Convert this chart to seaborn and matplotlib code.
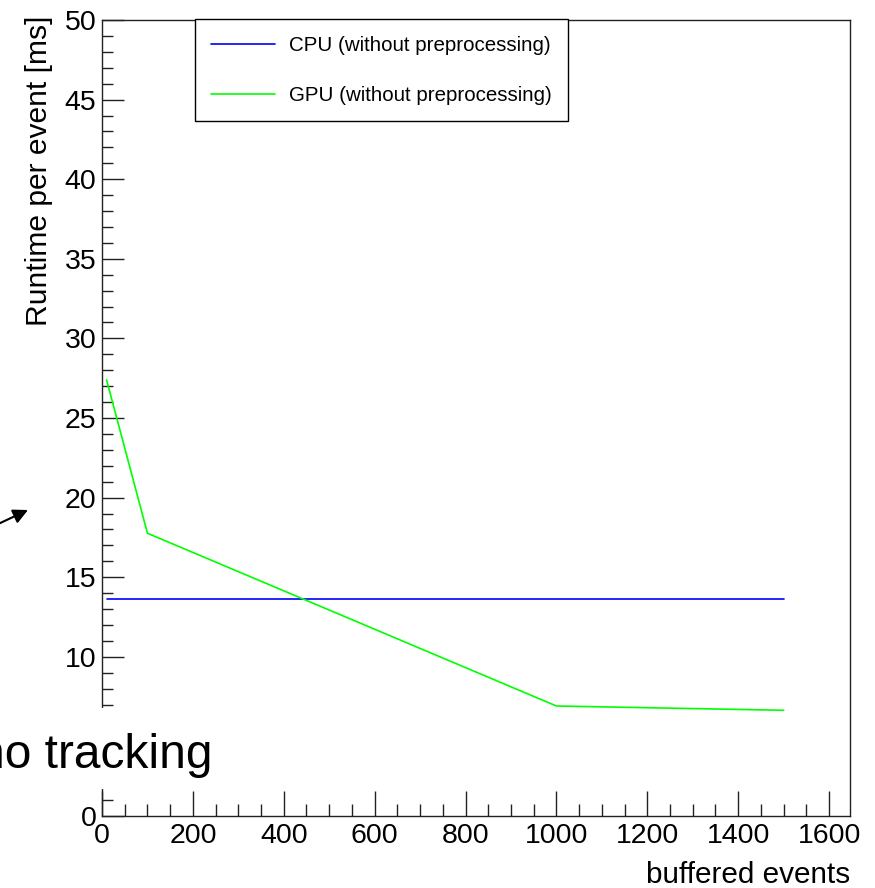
import pandas as pd
import seaborn as sns
import matplotlib.pyplot as plt
from matplotlib.ticker import MultipleLocator
from matplotlib.patches import Rectangle

# values
buffered = [10, 100, 1000, 1500]
cpu_runtime = [13.61, 13.61, 13.61, 13.61]
gpu_runtime = [27.4, 17.76, 6.91, 6.64]
series_names = ["CPU (without preprocessing)", "GPU (without preprocessing)"]

df = pd.DataFrame({
    "buffered events": buffered * 2,
    "runtime": cpu_runtime + gpu_runtime,
    "series": [series_names[0]] * len(buffered) + [series_names[1]] * len(buffered),
})

sns.set_style("ticks", {"text.color": "black", "axes.labelcolor": "black",
                        "xtick.color": "#222222", "ytick.color": "#222222"})
plt.rcParams["font.family"] = ["Liberation Sans", "DejaVu Sans"]

W, H = 875, 888
fig = plt.figure(figsize=(W / 100, H / 100), dpi=100)
ax = fig.add_axes([102 / W, 1 - 816 / H, 748 / W, 796 / H])

sns.lineplot(data=df, x="buffered events", y="runtime", hue="series",
             palette=["#0000ff", "#00ff00"], linewidth=1.2, ax=ax,
             estimator=None, sort=False)

ax.set_xlim(0, 1646)
ax.set_ylim(0, 50)
ax.xaxis.set_major_locator(MultipleLocator(200))
ax.xaxis.set_minor_locator(MultipleLocator(50))
ax.yaxis.set_major_locator(MultipleLocator(5))
ax.yaxis.set_minor_locator(MultipleLocator(1))

for s in ax.spines.values():
    s.set_color("#222222")
    s.set_linewidth(1.0)

ax.tick_params(axis="both", which="both", direction="in", width=1.0,
               color="#222222", labelcolor="black", top=False, right=False)
ax.tick_params(axis="x", which="major", length=18, labelsize=20.5, pad=5)
ax.tick_params(axis="x", which="minor", length=8.6)
ax.tick_params(axis="y", which="major", length=15.8, labelsize=20.5, pad=4)
ax.tick_params(axis="y", which="minor", length=7.9)

# the "5" label sits under the white patch in the reference
fig.canvas.draw()
for lab in ax.get_yticklabels():
    if lab.get_text() == "5":
        lab.set_visible(False)

ax.set_xlabel("buffered events", fontsize=21.4, loc="right")
ax.xaxis.set_label_coords(1.0, -0.056)
ax.set_ylabel("Runtime per event [ms]", fontsize=21.6, loc="top")
ax.yaxis.set_label_coords(-0.066, 1.006)

leg = ax.legend(loc="upper left", bbox_to_anchor=(195 / W, 1 - 19.5 / H),
                bbox_transform=fig.transFigure, fontsize=14.8, frameon=True,
                fancybox=False, edgecolor="black", framealpha=1,
                handlelength=3.1, handletextpad=0.65, labelspacing=1.5,
                borderpad=0.8, borderaxespad=0)
leg.get_frame().set_linewidth(1.0)

# white patch with the "no tracking" annotation on top of the plot
fig.patches.append(Rectangle((0, 1 - 789 / H), 240 / W, 81 / H,
                             transform=fig.transFigure, facecolor="white",
                             edgecolor="none", zorder=5))
fig.text(213 / W, 1 - 768 / H, "no tracking", fontsize=34.5, ha="right",
         va="baseline", zorder=6)
ax.annotate("", xy=(28 / W, 1 - 510 / H), xytext=(-4 / W, 1 - 525 / H),
            xycoords="figure fraction", textcoords="figure fraction",
            arrowprops=dict(arrowstyle="-|>", color="black", lw=1.5,
                            mutation_scale=22, shrinkA=0, shrinkB=0),
            annotation_clip=False)

fig.savefig("out.png", dpi=100)
